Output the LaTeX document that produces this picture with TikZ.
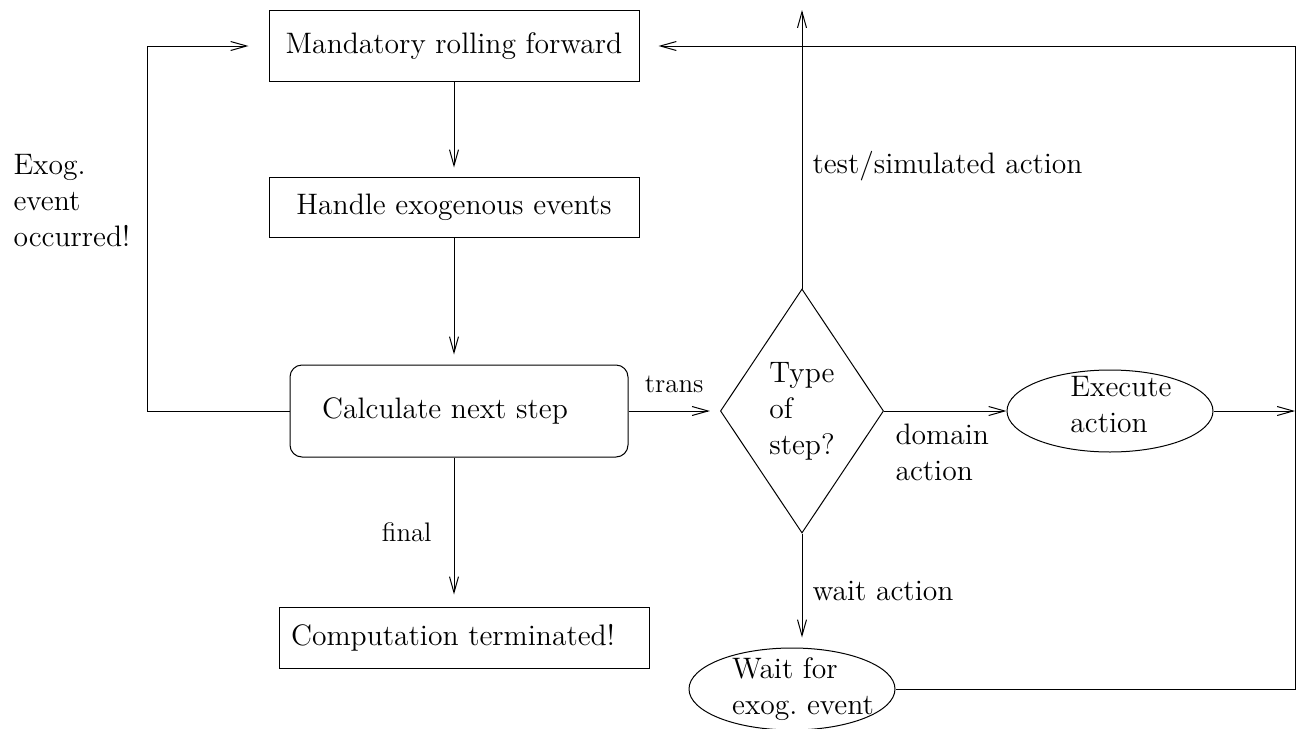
\documentclass[tikz,border=0pt]{standalone}
\usepackage{fontspec}
\usetikzlibrary{positioning}
\usetikzlibrary{shapes.geometric}
\usetikzlibrary{arrows.meta}

\begin{document}
\begin{tikzpicture}[x=0.5pt, y=-0.5pt, line width=0.5pt,
        font=\fontsize{14.8}{18}\selectfont,
        >={Straight Barb[length=8pt,width=4.5pt]},
        stepbox/.style={draw, rectangle, minimum width=185pt, inner sep=0pt},
        calcbox/.style={draw, rectangle, rounded corners=6pt, minimum width=169pt, minimum height=46pt, inner sep=0pt},
        choice/.style={draw, diamond, inner sep=0pt, minimum width=81.5pt, minimum height=122pt, align=left},
        actell/.style={draw, ellipse, minimum width=103pt, minimum height=41pt, inner sep=0pt},
        lbl/.style={align=left, inner sep=0pt},
        smalllbl/.style={font=\fontsize{13.4}{15}\selectfont, inner sep=0pt}]
            \useasboundingbox (0,0) rectangle (1303,729);

            % Boxes
            \node[stepbox, minimum height=35.5pt] (roll) at (454,46) {Mandatory rolling forward};
            \node[stepbox, minimum height=30pt] (handle) at (454,207) {Handle exogenous events};
            \node[calcbox] (calc) at (459,411) {\kern-14pt Calculate next step};
            \node[stepbox, minimum height=30.5pt] (comp) at (464,637.5) {\kern-11pt Computation terminated!};

            % Decision and actions
            \node[choice] (kind) at (802,411) {Type\\of\\step?};
            \node[actell] (exec) at (1110,411) {};
            \node[lbl] (exectxt) at (1121,405) {Execute\\action};
            \node[actell] (wait) at (792,689) {};
            \node[lbl] (waittxt) at (803,689) {Wait for\\exog.\ event};

            % Free ends
            \coordinate (up) at (802,10);
            \coordinate (rightbus) at (1295,411);
            \coordinate (leftbus) at (147,411);

            % Main column
            \draw[->, shorten >=4.5pt] (roll) -- (handle);
            \draw[->, shorten >=5pt] (handle) -- (handle |- calc.north);
            \draw[->, shorten >=6pt] (handle |- calc.south) -- (handle |- comp.north)
                node[smalllbl, midway, left=11pt] (final) {final};

            % Branches of the decision
            \draw[->, shorten >=5pt] (calc.east) -- (kind.west)
                node[smalllbl, midway, above=9pt] (trans) {trans};
            \draw[->] (kind.north) -- (up)
                node[lbl, pos=0.44, right=5pt] (testlbl) {test/simulated action};
            \draw[->] (kind.east) -- (exec.west)
                node[lbl, at start, anchor=north west, xshift=5.5pt, yshift=-6pt] (domainlbl) {domain\\action};
            \draw[->] (exec.east) -- (rightbus);
            \draw[->, shorten >=5pt] (kind.south) -- (kind.south |- wait.north)
                node[lbl, midway, right=5pt] (waitlbl) {wait action};

            % Loops back to the top
            \draw[->, shorten >=9.5pt] (wait.east) -- (wait.east -| rightbus) -- (rightbus |- roll.east) -- (roll.east);
            \draw[->, shorten >=10pt] (calc.west) -- (leftbus) |- (roll.west);
            \node[lbl, anchor=west] (exoglbl) at (13,201) {Exog.\\event\\occurred!};
        \end{tikzpicture}
\end{document}
